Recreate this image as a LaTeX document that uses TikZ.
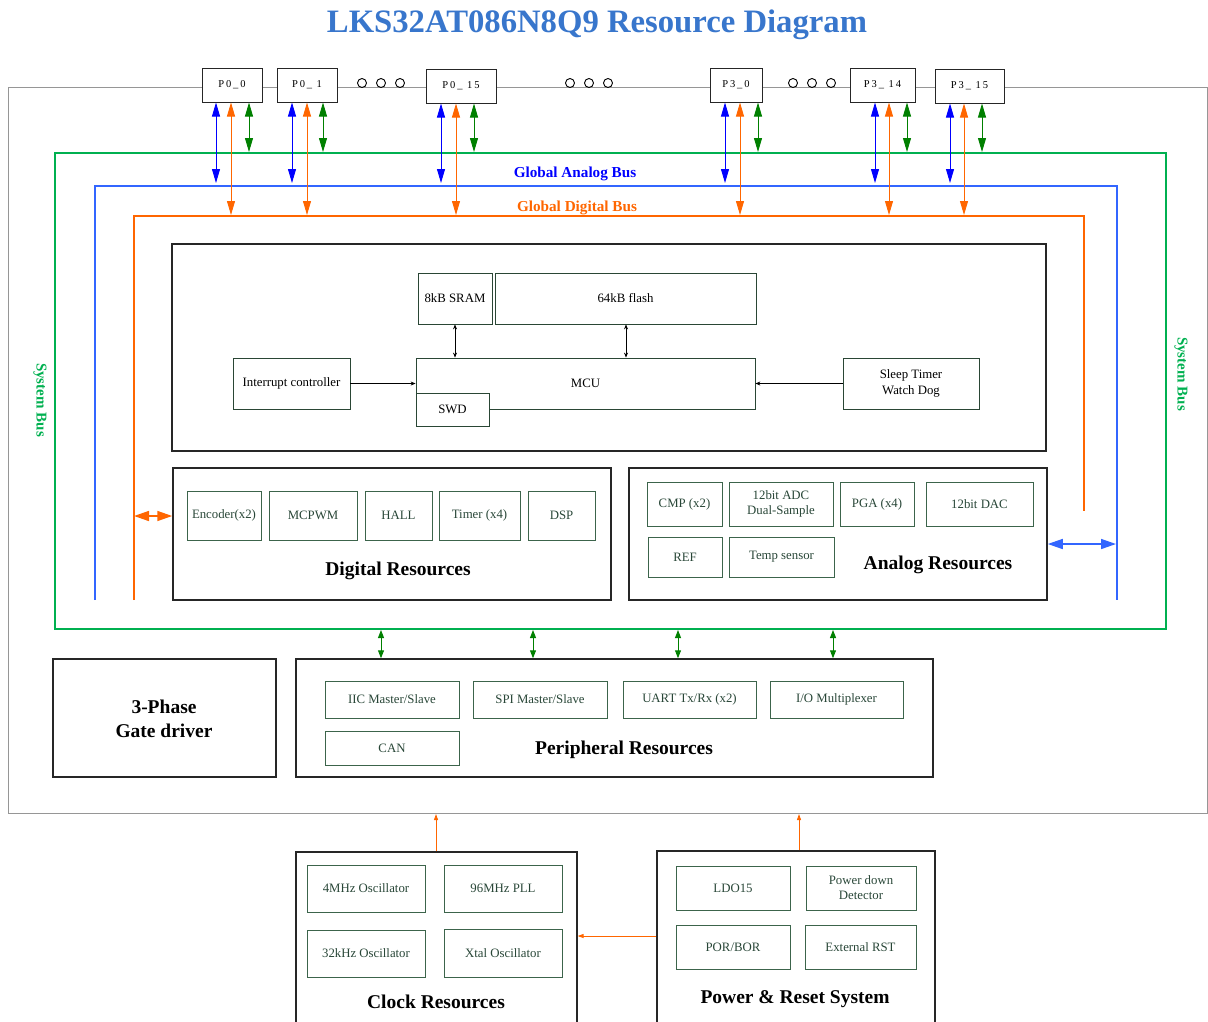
\documentclass[tikz,border=0pt]{standalone}
\usepackage{fontspec}
\setmainfont{Liberation Serif}
\usetikzlibrary{arrows.meta}
\definecolor{ttlblue}{RGB}{56,118,204}
\definecolor{abusblue}{RGB}{51,102,255}
\definecolor{pinblue}{RGB}{0,0,255}
\definecolor{dorange}{RGB}{255,102,0}
\definecolor{pingreen}{RGB}{0,128,0}
\definecolor{sysgreen}{RGB}{0,176,80}
\definecolor{outgray}{RGB}{150,150,150}
\definecolor{ibord}{RGB}{60,100,75}
\definecolor{itext}{RGB}{40,70,55}
\newcommand\rbox[7][]{\node[#1, minimum width={#5-#3}, minimum height={#6-#4}, inner sep=0pt] (#2) at ({(#3+#5)/2},{(#4+#6)/2}) {#7};}
\tikzset{
  ib/.style={draw=ibord, line width=0.9pt, text=itext, align=center, font=\fontsize{12.8}{15}\selectfont},
  mb/.style={draw=ibord!70!black, line width=0.8pt, text=black, align=center, font=\fontsize{12.8}{15.5}\selectfont},
  bigbox/.style={draw=black!85, line width=1.5pt},
  pinbox/.style={draw=black!85, fill=white, line width=1pt, font=\fontsize{10.5}{12}\selectfont\addfontfeature{LetterSpace=18}},
  sect/.style={font=\bfseries\fontsize{19.5}{24}\selectfont, align=center},
  pinarr/.style={line width=0.9pt, {Triangle[length=14pt,width=8pt]}-{Triangle[length=14pt,width=8pt]}},
  sidearr/.style={line width=1.5pt, {Triangle[length=15pt,width=10pt]}-{Triangle[length=15pt,width=10pt]}},
  sysarr/.style={line width=1pt, pingreen, {Triangle[length=8pt,width=6pt]}-{Triangle[length=8pt,width=6pt]}},
  smallarr/.style={line width=0.7pt, {Stealth[length=5pt,width=4pt]}-{Stealth[length=5pt,width=4pt]}},
  onearr/.style={line width=0.7pt, -{Stealth[length=5pt,width=4pt]}},
  clkarr/.style={line width=0.9pt, dorange, -{Triangle[length=6pt,width=4pt]}},
  dot/.style={circle, draw=black, line width=0.9pt, minimum size=9pt, inner sep=0pt, fill=white},
  buslab/.style={font=\bfseries\fontsize{15.2}{17}\selectfont},
}
\begin{document}
\begin{tikzpicture}[x=1pt,y=-1pt]
\useasboundingbox (0,0) rectangle (1208,1021);
\clip (0,0) rectangle (1208,1021);
% title
\node[font=\bfseries\fontsize{32.7}{36}\selectfont, text=ttlblue] (title) at (597,25) {LKS32AT086N8Q9 Resource Diagram};
% outer gray frame
\draw[outgray, line width=1pt] (8,87) rectangle (1207,813);
% buses
\draw[sysgreen, line width=1.3pt] (55,153) rectangle (1166,629);
\draw[abusblue, line width=1.3pt] (95,600) -- (95,186) -- (1117,186) -- (1117,600);
\draw[dorange, line width=1.3pt] (134,600) -- (134,216) -- (1084,216) -- (1084,511);
\node[buslab, text=pinblue] (alab) at (575,174) {Global Analog Bus};
\node[buslab, text=dorange] (dlab) at (577,208) {Global Digital Bus};
\node[font=\bfseries\fontsize{15}{17}\selectfont, text=sysgreen, rotate=-90] (sysl) at (40,400) {System Bus};
\node[font=\bfseries\fontsize{15}{17}\selectfont, text=sysgreen, rotate=-90] (sysr) at (1181,374) {System Bus};
% pins
\rbox[pinbox]{p00}{202}{68}{262}{102}{P0\_0}
\rbox[pinbox]{p01}{277}{68}{337}{102}{P0\_ 1}
\rbox[pinbox]{p015}{426}{69}{496}{103}{P0\_ 15}
\rbox[pinbox]{p30}{710}{68}{762}{102}{P3\_0}
\rbox[pinbox]{p314}{850}{68}{915}{102}{P3\_ 14}
\rbox[pinbox]{p315}{935}{69}{1004}{103}{P3\_ 15}
\foreach \x/\n in {362/a1,381/a2,400/a3,570/b1,589/b2,608/b3,793/c1,812/c2,831/c3}
  \node[dot] (d\n) at (\x,83) {};
% pin arrows
\foreach \p/\bx/\ox/\gx in {p00/216/231/249, p01/292/307/323, p015/441/456/474, p30/725/740/758, p314/875/889/907, p315/950/964/982}{
  \draw[pinarr, pinblue] (\p.south -| \bx,0) -- (\bx,183);
  \draw[pinarr, dorange] (\p.south -| \ox,0) -- (\ox,215);
  \draw[pinarr, pingreen] (\p.south -| \gx,0) -- (\gx,152);
}
% MCU block
\rbox[bigbox]{core}{172}{244}{1046}{451}{}
\rbox[mb]{sram}{418}{273}{492}{324}{8kB SRAM}
\rbox[mb]{flash}{495}{273}{756}{324}{64kB flash}
\rbox[mb]{mcu}{416}{358}{755}{409}{MCU}
\rbox[mb, fill=white]{swd}{416}{393}{489}{426}{SWD}
\rbox[mb]{intc}{233}{358}{350}{409}{Interrupt controller}
\rbox[mb]{wdg}{843}{358}{979}{409}{Sleep Timer\\Watch Dog}
\draw[smallarr] (sram.south -| 455,0) -- (mcu.north -| 455,0);
\draw[smallarr] (flash.south -| 626,0) -- (mcu.north -| 626,0);
\draw[onearr] (intc.east) -- (intc.east -| mcu.west);
\draw[onearr] (wdg.west) -- (wdg.west -| mcu.east);
% digital resources
\rbox[bigbox]{dig}{173}{468}{611}{600}{}
\rbox[ib]{enc}{187}{491}{261}{540}{Encoder(x2)}
\rbox[ib]{pwm}{269}{491}{357}{540}{MCPWM}
\rbox[ib]{hall}{365}{491}{432}{540}{HALL}
\rbox[ib]{tim}{439}{491}{520}{540}{Timer (x4)}
\rbox[ib]{dsp}{528}{491}{595}{540}{DSP}
\node[sect] (digt) at (398,571) {Digital Resources};
% analog resources
\rbox[bigbox]{ana}{629}{468}{1047}{600}{}
\rbox[ib]{cmp}{647}{482}{722}{526}{CMP (x2)}
\rbox[ib]{adc}{729}{482}{833}{526}{12bit ADC\\Dual-Sample}
\rbox[ib]{pga}{840}{482}{914}{526}{PGA (x4)}
\rbox[ib]{dac}{926}{482}{1033}{526}{12bit DAC}
\rbox[ib]{ref}{648}{537}{722}{577}{REF}
\rbox[ib]{temp}{729}{537}{834}{577}{Temp sensor}
\node[sect] (anat) at (938,565) {Analog Resources};
% side arrows
\coordinate (dbusl) at (134,516);
\coordinate (abusr) at (1116,544);
\draw[sidearr, dorange] (dbusl) -- (dbusl -| dig.west);
\draw[sidearr, abusblue] (ana.east |- abusr) -- (abusr);
% gate driver
\rbox[bigbox]{gate}{53}{659}{276}{777}{}
\node[sect] (gatet) at (164,719) {3-Phase\\Gate driver};
% peripheral resources
\rbox[bigbox]{per}{296}{659}{933}{777}{}
\rbox[ib]{iic}{325}{681}{459}{718}{IIC Master/Slave}
\rbox[ib]{spi}{473}{681}{607}{718}{SPI Master/Slave}
\rbox[ib]{uart}{623}{681}{756}{718}{UART Tx/Rx (x2)}
\rbox[ib]{iomux}{770}{681}{903}{718}{I/O Multiplexer}
\rbox[ib]{can}{325}{731}{459}{765}{CAN}
\node[sect] (pert) at (624,750) {Peripheral Resources};
\foreach \x in {381,533,678,833}
  \draw[sysarr] (\x,630) -- (per.north -| \x,0);
% clock resources
\rbox[bigbox, line width=1.2pt]{clk}{296}{852}{577}{1040}{}
\rbox[ib]{osc4}{307}{865}{425}{912}{4MHz Oscillator}
\rbox[ib]{pll}{444}{865}{562}{912}{96MHz PLL}
\rbox[ib]{osc32}{307}{930}{425}{977}{32kHz Oscillator}
\rbox[ib]{xtal}{444}{929}{562}{977}{Xtal Oscillator}
\node[sect] (clkt) at (436,1002) {Clock Resources};
% power & reset
\rbox[bigbox, line width=1.2pt]{pwr}{657}{851}{935}{1040}{}
\rbox[ib]{ldo}{676}{866}{790}{910}{LDO15}
\rbox[ib]{pdd}{806}{866}{916}{910}{Power down\\Detector}
\rbox[ib]{por}{676}{925}{790}{969}{POR/BOR}
\rbox[ib]{rst}{805}{925}{916}{969}{External RST}
\node[sect] (pwrt) at (795,999) {Power \& Reset System};
% clock / power arrows
\coordinate (frameA) at (436,814);
\coordinate (frameB) at (799,814);
\draw[clkarr] (clk.north -| frameA) -- (frameA);
\draw[clkarr] (pwr.north -| frameB) -- (frameB);
\draw[clkarr] (pwr.west |- 0,936) -- (clk.east |- 0,936);
\end{tikzpicture}
\end{document}
